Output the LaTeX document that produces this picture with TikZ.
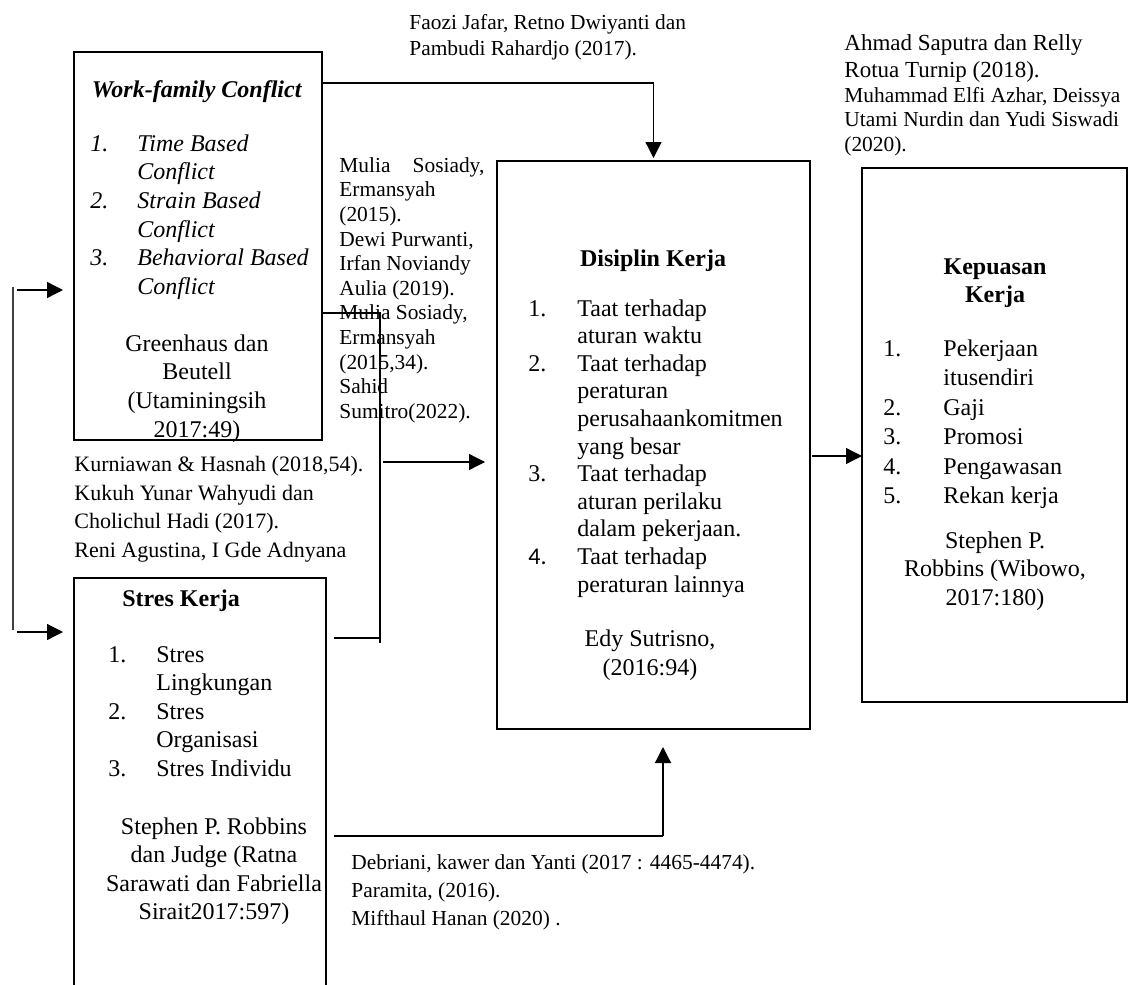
\documentclass[tikz,border=0pt]{standalone}
\usepackage{fontspec}
\setmainfont{Liberation Serif}
\newfontfamily\calibrifont{Carlito}
\usetikzlibrary{arrows.meta,positioning}
\newcommand{\lnum}[2][24pt]{\makebox[#1][l]{#2}}
\tikzset{
  varbox/.style={draw, line width=0.9pt, inner sep=0pt, outer sep=0pt},
  boxtext/.style={inner sep=0pt, font=\fontsize{12}{#1}\selectfont},
  boxtext/.default=14.35,
  cite/.style={inner sep=0pt, anchor=north west, align=left, font=\fontsize{10.7}{#1}\selectfont},
  cite/.default=13,
  conn/.style={line width=0.65pt},
  arr/.style={conn, -{Triangle[length=8pt, width=8pt]}}
}

\begin{document}
\begin{tikzpicture}[x=0.5pt, y=-0.5pt]
\useasboundingbox (0,0) rectangle (1130,985);

% Work-family Conflict
\node[varbox, minimum width=124pt, minimum height=194pt] (wfc) at (198,246) {};
\node[boxtext] (wfctitle) at (197,92) {\textbf{\textit{Work-family Conflict}}};
\node[boxtext, font=\fontsize{12}{14.35}\selectfont\itshape, anchor=north west, align=left] (wfclist) at (90,134) {%
  \lnum[23.5pt]{1.}Time Based\\ \lnum[23.5pt]{}Conflict\\
  \lnum[23.5pt]{2.}Strain Based\\ \lnum[23.5pt]{}Conflict\\
  \lnum[23.5pt]{3.}Behavioral Based\\ \lnum[23.5pt]{}Conflict};
\node[boxtext, anchor=north, align=center] (wfcsrc) at (197,334) {Greenhaus dan\\ Beutell\\ (Utaminingsih\\ 2017:49)};

% Stres Kerja
\node[varbox, minimum width=126pt, minimum height=211pt] (stres) at (200,789) {};
\node[boxtext, anchor=west] (strestitle) at (122,601) {\textbf{Stres Kerja}};
\node[boxtext=14.25, anchor=north west, align=left] (streslist) at (108,646) {%
  \lnum{1.}Stres\\ \lnum{}Lingkungan\\
  \lnum{2.}Stres\\ \lnum{}Organisasi\\
  \lnum{3.}Stres Individu};
\node[boxtext=14.25, anchor=north, align=center] (stressrc) at (214,817) {Stephen P. Robbins\\ dan Judge (Ratna\\ Sarawati dan Fabriella\\ Sirait2017:597)};

% Disiplin Kerja
\node[varbox, minimum width=156.5pt, minimum height=284pt] (disiplin) at (653.5,445) {};
\node[boxtext] (distitle) at (653,261) {\textbf{Disiplin Kerja}};
\node[boxtext=13.8, anchor=north west, align=left] (dislist) at (528,299) {%
  \lnum[24.5pt]{1.}Taat terhadap\\ \lnum[24.5pt]{}aturan waktu\\
  \lnum[24.5pt]{2.}Taat terhadap\\ \lnum[24.5pt]{}peraturan\\
  \lnum[24.5pt]{}perusahaankomitmen\\ \lnum[24.5pt]{}yang besar\\
  \lnum[24.5pt]{3.}Taat terhadap\\ \lnum[24.5pt]{}aturan perilaku\\
  \lnum[24.5pt]{}dalam pekerjaan.\\
  \lnum[24.5pt]{\calibrifont 4.}Taat terhadap\\ \lnum[24.5pt]{}peraturan lainnya};
\node[boxtext=14.5, anchor=north, align=center] (dissrc) at (650,629) {Edy Sutrisno,\\ (2016:94)};

% Kepuasan Kerja
\node[varbox, minimum width=132.5pt, minimum height=267pt] (kepuasan) at (994.5,435) {};
\node[boxtext=14, anchor=north, align=center] (keptitle) at (995,258) {\textbf{Kepuasan}\\ \textbf{Kerja}};
\node[boxtext=14.75, anchor=north west, align=left] (keplist) at (883,339) {%
  \lnum[30pt]{1.}Pekerjaan\\ \lnum[30pt]{}itusendiri\\
  \lnum[30pt]{2.}Gaji\\ \lnum[30pt]{3.}Promosi\\
  \lnum[30pt]{4.}Pengawasan\\ \lnum[30pt]{5.}Rekan kerja};
\node[boxtext=14.25, anchor=north, align=center] (kepsrc) at (995,531) {Stephen P.\\ Robbins (Wibowo,\\ 2017:180)};

% sumber penelitian
\node[cite] (faozi) at (409,14) {Faozi Jafar, Retno Dwiyanti dan\\ Pambudi Rahardjo (2017).};
\node[cite=12.3] (mulia) at (339,157) {\makebox[72.5pt]{Mulia\hfill Sosiady,}\\ Ermansyah\\ (2015).\\
  Dewi Purwanti,\\ Irfan Noviandy\\ Aulia (2019).\\ Mulia Sosiady,\\ Ermansyah\\ (2015,34).\\ Sahid\\ Sumitro(2022).};
\node[cite, font=\fontsize{11.5}{13.5}\selectfont] (ahmad) at (844,34) {Ahmad Saputra dan Relly\\ Rotua Turnip (2018).};
\node[cite=12.25] (muhammad) at (844,87) {Muhammad Elfi Azhar, Deissya\\ Utami Nurdin dan Yudi Siswadi\\ (2020).};
\node[cite, font=\fontsize{11}{14.3}\selectfont] (kurniawan) at (74,456) {Kurniawan \& Hasnah (2018,54).\\ Kukuh Yunar Wahyudi dan\\ Cholichul Hadi (2017).\\ Reni Agustina, I Gde Adnyana};
\node[cite=14] (debriani) at (351,854) {Debriani, kawer dan Yanti (2017 : 4465-4474).\\ Paramita, (2016).\\ Mifthaul Hanan (2020) .};

% garis penghubung
\coordinate (ltop) at (13,287);
\coordinate (lbot) at (13,630);
\coordinate (la) at (17,290);
\coordinate (lb) at (17,632);
\draw[conn, line width=0.9pt, black!75] (ltop) -- (lbot);
\draw[arr, shorten >=5.5pt] (la) -- (wfc.west |- la);
\draw[arr, shorten >=5.5pt] (lb) -- (stres.west |- lb);

\coordinate (ttop) at (653,83);
\draw[arr, shorten >=1.5pt] (wfc.east |- ttop) -| (disiplin.north);

\coordinate (mtop) at (380,313);
\coordinate (mbot) at (380,643);
\coordinate (mjoin) at (383,462);
\coordinate (mstres) at (380,638);
\draw[conn] (wfc.east |- mtop) -- (mtop) -- (mbot);
\draw[conn, shorten <=4pt] (stres.east |- mstres) -- (mstres);
\draw[arr, shorten >=6pt] (mjoin) -- (disiplin.west |- mjoin);

\coordinate (bjoin) at (663,836);
\draw[conn, shorten <=4pt] (stres.east |- bjoin) -- (bjoin);
\draw[arr, shorten >=9pt] (bjoin) -- (bjoin |- disiplin.south);

\coordinate (rjoin) at (812,456);
\draw[arr] (rjoin) -- (kepuasan.west |- rjoin);
\end{tikzpicture}
\end{document}
